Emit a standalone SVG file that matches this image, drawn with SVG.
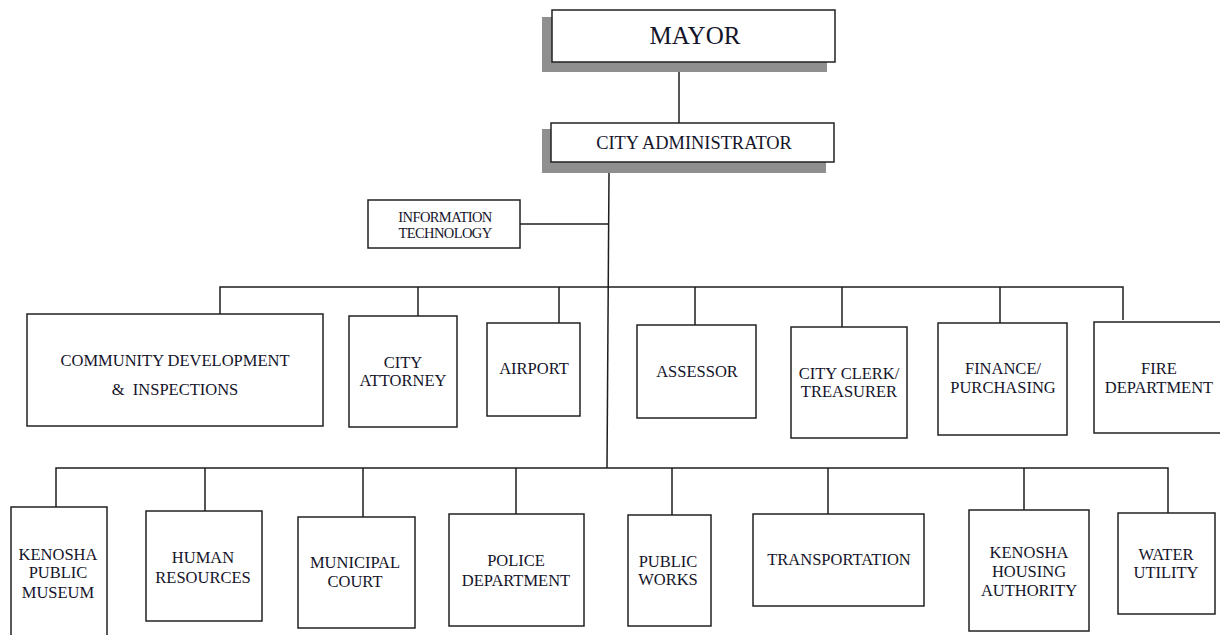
<svg xmlns="http://www.w3.org/2000/svg" width="1220" height="635" viewBox="0 0 1220 635">
<style>
.bg{fill:#ffffff}
.box{fill:#ffffff;stroke:#222222;stroke-width:1.5}
.shadow{fill:#8f8f8f}
.t{font-family:"Liberation Serif","Times New Roman",serif;font-size:16.5px;fill:#14142a;text-anchor:middle}
.big{font-size:25px}
.mid{font-size:18.4px}
.sm{font-size:14.5px;letter-spacing:-0.6px}
.conn{fill:none;stroke:#1e1e1e;stroke-width:1.5}
</style>
<rect class="bg" x="0" y="0" width="1220" height="635"/>
<g id="connectors">
<path class="conn" d="M679 72V123"/>
<path class="conn" d="M609 173L607 468"/>
<path class="conn" d="M520 224H609"/>
<path class="conn" d="M220 314V287H1123V320"/>
<path class="conn" d="M418 287V316M559 287V323M695 287V325M842 287V327M1000 287V323"/>
<path class="conn" d="M56 507V468H1168V513"/>
<path class="conn" d="M205 468V511M363 468V517M516 468V514M672 468V515M828 468V514M1024 468V510"/>
</g>
<g id="mayor">
<rect class="shadow" x="542" y="17" width="285" height="55"/>
<rect class="box" x="552" y="10" width="283" height="52"/>
<text class="t big" x="695" y="44">MAYOR</text>
</g>
<g id="city-administrator">
<rect class="shadow" x="542" y="129" width="284" height="44"/>
<rect class="box" x="551" y="123" width="283" height="39"/>
<text class="t mid" x="694" y="149">CITY ADMINISTRATOR</text>
</g>
<g id="information-technology">
<rect class="box" x="368" y="200" width="152" height="48"/>
<text class="t sm" x="445" y="222">INFORMATION</text>
<text class="t sm" x="445" y="238">TECHNOLOGY</text>
</g>
<g id="community-development">
<rect class="box" x="27" y="314" width="296" height="112"/>
<text class="t" x="175" y="366">COMMUNITY DEVELOPMENT</text>
<text class="t" x="175" y="395" xml:space="preserve">&amp;  INSPECTIONS</text>
</g>
<g id="city-attorney">
<rect class="box" x="349" y="316" width="108" height="111"/>
<text class="t" x="403" y="368">CITY</text>
<text class="t" x="403" y="386">ATTORNEY</text>
</g>
<g id="airport">
<rect class="box" x="487" y="323" width="93" height="93"/>
<text class="t" x="534" y="374">AIRPORT</text>
</g>
<g id="assessor">
<rect class="box" x="637" y="325" width="119" height="93"/>
<text class="t" x="697" y="377">ASSESSOR</text>
</g>
<g id="city-clerk">
<rect class="box" x="791" y="327" width="116" height="111"/>
<text class="t" x="849" y="379">CITY CLERK/</text>
<text class="t" x="849" y="397">TREASURER</text>
</g>
<g id="finance">
<rect class="box" x="938" y="323" width="129" height="112"/>
<text class="t" x="1003" y="374">FINANCE/</text>
<text class="t" x="1003" y="393">PURCHASING</text>
</g>
<g id="fire-department">
<rect class="box" x="1094" y="322" width="140" height="111"/>
<text class="t" x="1159" y="374">FIRE</text>
<text class="t" x="1159" y="393">DEPARTMENT</text>
</g>
<g id="kenosha-public-museum">
<rect class="box" x="11" y="507" width="96" height="140"/>
<text class="t" x="58" y="560">KENOSHA</text>
<text class="t" x="58" y="578">PUBLIC</text>
<text class="t" x="58" y="598">MUSEUM</text>
</g>
<g id="human-resources">
<rect class="box" x="146" y="511" width="116" height="110"/>
<text class="t" x="203" y="563">HUMAN</text>
<text class="t" x="203" y="583">RESOURCES</text>
</g>
<g id="municipal-court">
<rect class="box" x="298" y="517" width="117" height="111"/>
<text class="t" x="355" y="568">MUNICIPAL</text>
<text class="t" x="355" y="587">COURT</text>
</g>
<g id="police-department">
<rect class="box" x="449" y="514" width="135" height="112"/>
<text class="t" x="516" y="566">POLICE</text>
<text class="t" x="516" y="586">DEPARTMENT</text>
</g>
<g id="public-works">
<rect class="box" x="628" y="515" width="83" height="111"/>
<text class="t" x="668" y="567">PUBLIC</text>
<text class="t" x="668" y="585">WORKS</text>
</g>
<g id="transportation">
<rect class="box" x="753" y="514" width="171" height="92"/>
<text class="t" x="839" y="565">TRANSPORTATION</text>
</g>
<g id="kenosha-housing-authority">
<rect class="box" x="969" y="510" width="120" height="121"/>
<text class="t" x="1029" y="558">KENOSHA</text>
<text class="t" x="1029" y="577">HOUSING</text>
<text class="t" x="1029" y="596">AUTHORITY</text>
</g>
<g id="water-utility">
<rect class="box" x="1118" y="513" width="97" height="101"/>
<text class="t" x="1166" y="560">WATER</text>
<text class="t" x="1166" y="578">UTILITY</text>
</g>
</svg>
